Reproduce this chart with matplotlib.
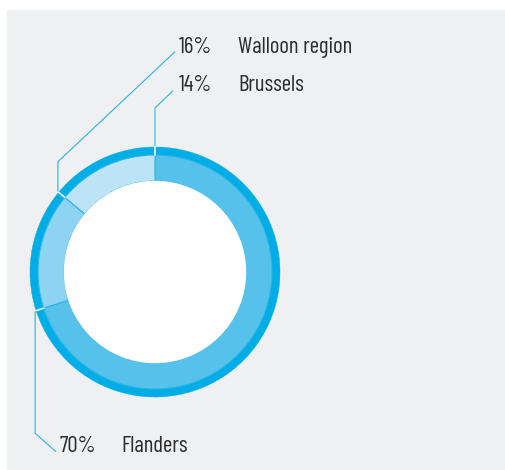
import matplotlib
matplotlib.use("Agg")
import matplotlib.pyplot as plt
import numpy as np

regions = ["Flanders", "Walloon region", "Brussels"]
shares = [70, 16, 14]
share_labels = ["70%", "16%", "14%"]

W, H = 506, 470
BG = "#eff0f2"
RING = "#00ade5"
SEG_COLORS = ["#56c2ec", "#8fd3f3", "#bde4f6"]
LINE = "#2ab4e6"
TEXT = "#2b2b2b"
FONT = ["Barlow Condensed", "Roboto Condensed", "DejaVu Sans"]

CX, CY = 155, H - 272
R_OUT, R_MID, R_IN = 125, 117, 91

fig = plt.figure(figsize=(W / 100, H / 100), dpi=100)
fig.patch.set_facecolor("white")
ax = fig.add_axes([0, 0, 1, 1])
ax.add_patch(plt.Rectangle((7, 0), W - 7, H - 10, color=BG, zorder=0))

# outer thin ring
ax.pie(shares, startangle=90, counterclock=False, center=(CX, CY), radius=R_OUT,
       colors=[RING] * 3, frame=True,
       wedgeprops=dict(width=R_OUT - R_MID, edgecolor=RING, linewidth=0.3))
wedges, _ = ax.pie(shares, startangle=90, counterclock=False, center=(CX, CY),
                   radius=R_MID, colors=SEG_COLORS, frame=True,
                   wedgeprops=dict(width=R_MID - R_IN, edgecolor=LINE, linewidth=0.8))
ax.add_patch(plt.Circle((CX, CY), R_IN - 0.4, color="white", zorder=3))

# white gaps in the outer ring at slice borders
for w in wedges:
    a = np.deg2rad(w.theta1)
    ax.plot([CX + R_MID * np.cos(a), CX + (R_OUT + 1) * np.cos(a)],
            [CY + R_MID * np.sin(a), CY + (R_OUT + 1) * np.sin(a)],
            color="white", lw=1.1, zorder=3)

# leader lines: from each slice's clockwise end, vertical, then diagonal to label
bend_y = [433.3, 161.7, 108]        # pixel rows where leaders turn
label_anchor = [(56, 451.7), (175, 51.7), (173, 90.7)]
text_pos = [(60, 451.7), (179, 53.3), (179, 90.7)]
name_x = [121, 238, 238]

for w, by, (lx, ly), (tx, ty), nx, pct, name in zip(
        wedges, bend_y, label_anchor, text_pos, name_x, share_labels, regions):
    ang = np.deg2rad(w.theta1)
    sx = CX + (R_OUT + 1) * np.cos(ang)
    sy = CY + (R_OUT + 1) * np.sin(ang)
    ax.plot([sx, sx, lx], [sy, H - by, H - ly], color=LINE, lw=0.8,
            solid_capstyle="butt", zorder=4)
    ax.text(tx, H - ty, pct, fontsize=16.5, color=TEXT, va="baseline", ha="left",
            family=FONT)
    ax.text(nx, H - ty, name, fontsize=16.5, color=TEXT, va="baseline", ha="left",
            family=FONT)

ax.set_xlim(0, W)
ax.set_ylim(0, H)
ax.set_aspect("auto")
ax.axis("off")

fig.savefig("out.png", dpi=100, facecolor="white")
